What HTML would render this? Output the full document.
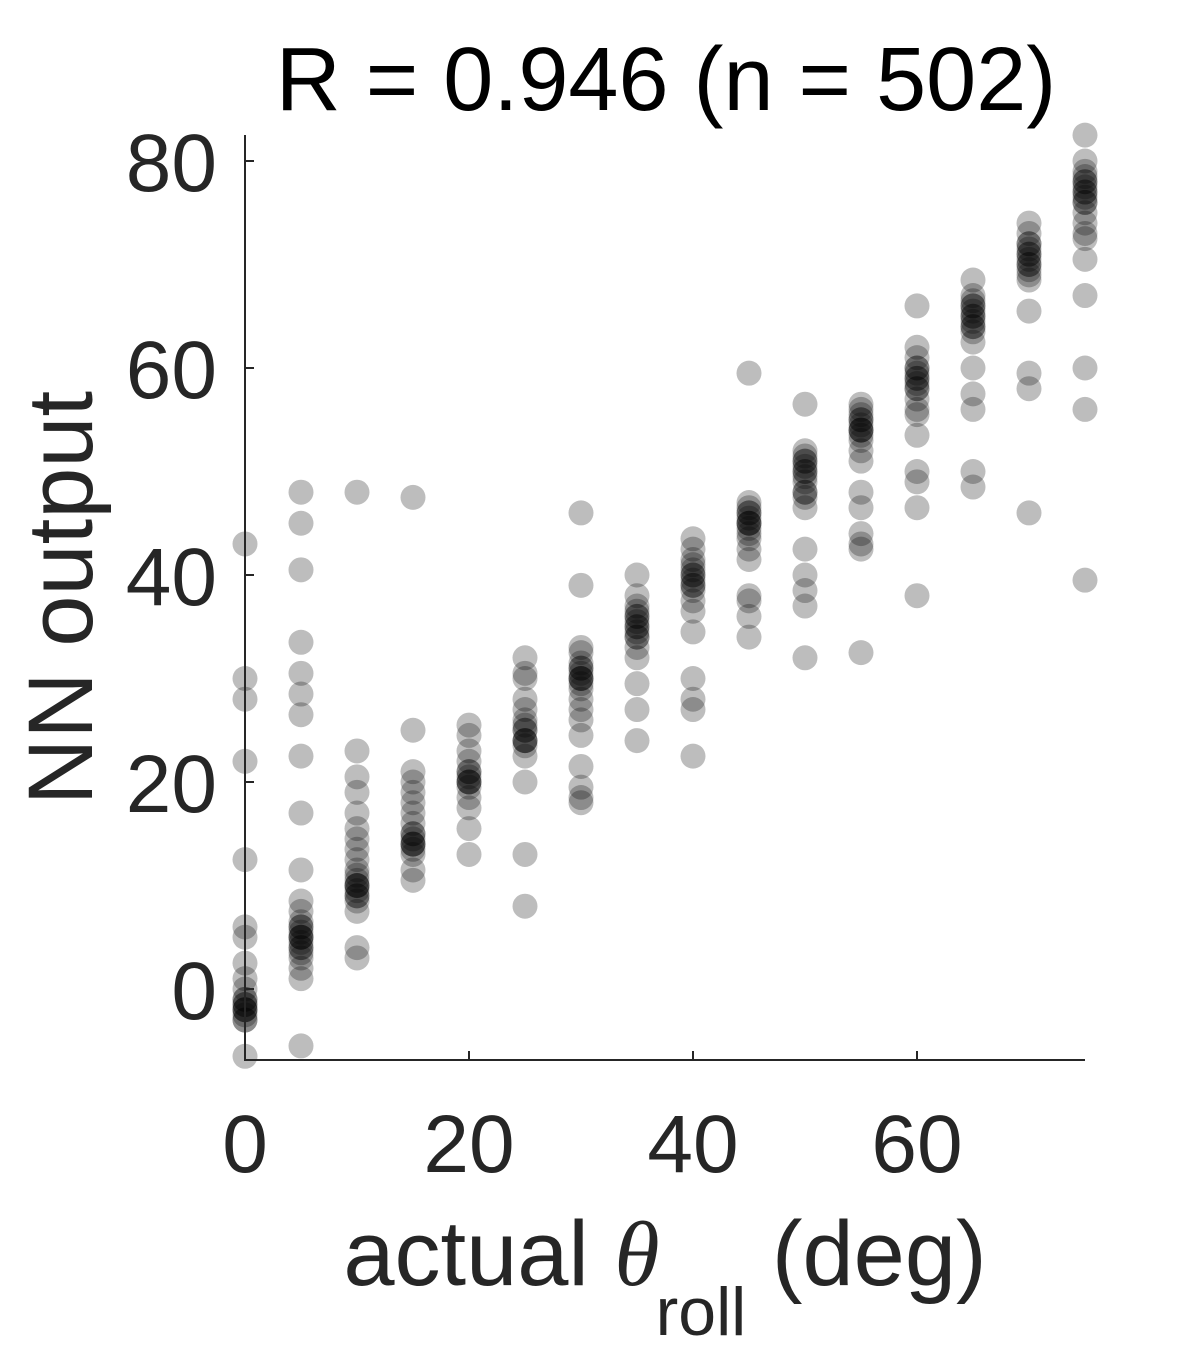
<!DOCTYPE html>
<html><head><meta charset="utf-8"><style>
html,body{margin:0;padding:0;background:#fff;}
svg{display:block;font-family:"Liberation Sans",Arial,sans-serif;}
</style></head><body>
<svg id="chart" width="1200" height="1350" viewBox="0 0 1200 1350">
<text x="666" y="110" font-size="90" text-anchor="middle" fill="#000">R = 0.946 (n = 502)</text>
<g id="points"></g>
<g id="axes"></g>
<text transform="translate(92,598) rotate(-90)" font-size="92" text-anchor="middle" fill="#262626">NN output</text>
<text x="665" y="1285" font-size="92" text-anchor="middle" fill="#262626">actual <tspan font-family="Liberation Serif,serif" font-style="italic">θ</tspan><tspan font-size="68" dy="50" dx="-4">roll</tspan><tspan dy="-50"> (deg)</tspan></text>
</svg>
<script>
const xTicks=[0,20,40,60];
const yTicks=[0,20,40,60,80];
const colX=[0,5,10,15,20,25,30,35,40,45,50,55,60,65,70,75];
const colY=[
[43,30,28,22,12.5,6,5,2.5,1,0,-1,-1.5,-2,-2.5,-3,-1,-2,-3,-2,-1.5,-6.5],
[48,45,40.5,33.5,30.5,28.5,26.5,22.5,17,11.5,8.5,7.5,6.5,6,5.5,5,4.5,4,3.5,3,2,1,5,6,4,5,-5.5],
[48,23,20.5,19,17,15.5,14.5,13.5,12.5,11.5,10.5,10,9.5,9,8.5,7.5,10,9,11,10,4,3],
[47.5,25,21,20,19,18,17,16,15,14.5,14,13.5,13,11.5,10.5,14,15,14],
[25.5,24.5,23,22,21,20.5,20,19.5,18.5,17.5,15.5,13,20,21,20],
[32,30.5,30,28,27,26,25.5,25,24,23.5,22.5,20,13,8,24,25,24],
[46,39,33,32.5,31.5,31,30.5,30,29.5,29,28,27,26,24.5,21.5,19.5,18.5,18,30,31,30],
[40,38,37,36.5,36,35.5,35,34.5,34,33,32,29.5,27,24,36,35,34],
[43.5,42.5,41.5,40.5,40,39.5,39,38.5,37.5,36.5,34.5,30,28,27,22.5,40,39,41],
[59.5,47,46.5,46,45.5,45,44.5,44,43.5,42.5,41.5,38,37.5,36,34,45,46,45],
[56.5,52,51.5,51,50.5,50,49.5,49,48,47.5,46.5,42.5,40,38.5,37,32,50,51,48],
[56.5,56,55.5,55,54.5,54,53.5,53,52,51,48,46.5,44,43,42.5,32.5,54,55,54],
[66,62,61,60,59.5,59,58.5,58,57,56,55.5,53.5,50,49,46.5,38,59,60,58],
[68.5,67,66.5,66,65.5,65,64.5,64,63.5,62.5,60,57.5,56,50,48.5,65,66,64],
[74,73,72,71.5,71,70.5,70,69.5,69,68.5,65.5,59.5,58,46,71,70,72],
[82.5,80,79,78.5,78,77.5,77,76.5,76,75,74,73,72.5,70.5,67,60,56,39.5,77,78,76]
];
const X0=245,XS=11.2,Y0=989,YS=10.35;
const sx=v=>X0+v*XS, sy=v=>Y0-v*YS;
const NS="http://www.w3.org/2000/svg";
const pg=document.getElementById('points');
colX.forEach((x,i)=>{colY[i].forEach(y=>{
 const c=document.createElementNS(NS,'circle');
 c.setAttribute('cx',sx(x));c.setAttribute('cy',sy(y));c.setAttribute('r',12.5);
 c.setAttribute('fill','#000');c.setAttribute('fill-opacity','0.26');
 
 
 pg.appendChild(c);});});
const ax=document.getElementById('axes');
function ln(x1,y1,x2,y2,name){const l=document.createElementNS(NS,'line');
 l.setAttribute('x1',x1);l.setAttribute('y1',y1);l.setAttribute('x2',x2);l.setAttribute('y2',y2);
 l.setAttribute('stroke','#262626');l.setAttribute('stroke-width','2');
 
 
 ax.appendChild(l);}
ln(245,135,245,1061,'y-axis-line');
ln(244,1060,1085,1060,'x-axis-line');
function tx(x,y,s,anchor,name){const t=document.createElementNS(NS,'text');
 t.setAttribute('x',x);t.setAttribute('y',y);t.setAttribute('font-size','82');
 t.setAttribute('fill','#262626');t.setAttribute('text-anchor',anchor);t.textContent=s;
 
 
 ax.appendChild(t);}
xTicks.forEach(v=>{ln(sx(v),1060,sx(v),1051,'x-tick');tx(sx(v),1172,String(v),'middle','x-tick-label');});
yTicks.forEach(v=>{ln(245,sy(v),254,sy(v),'y-tick');tx(217,sy(v)+30,String(v),'end','y-tick-label');});
</script>
</body></html>
